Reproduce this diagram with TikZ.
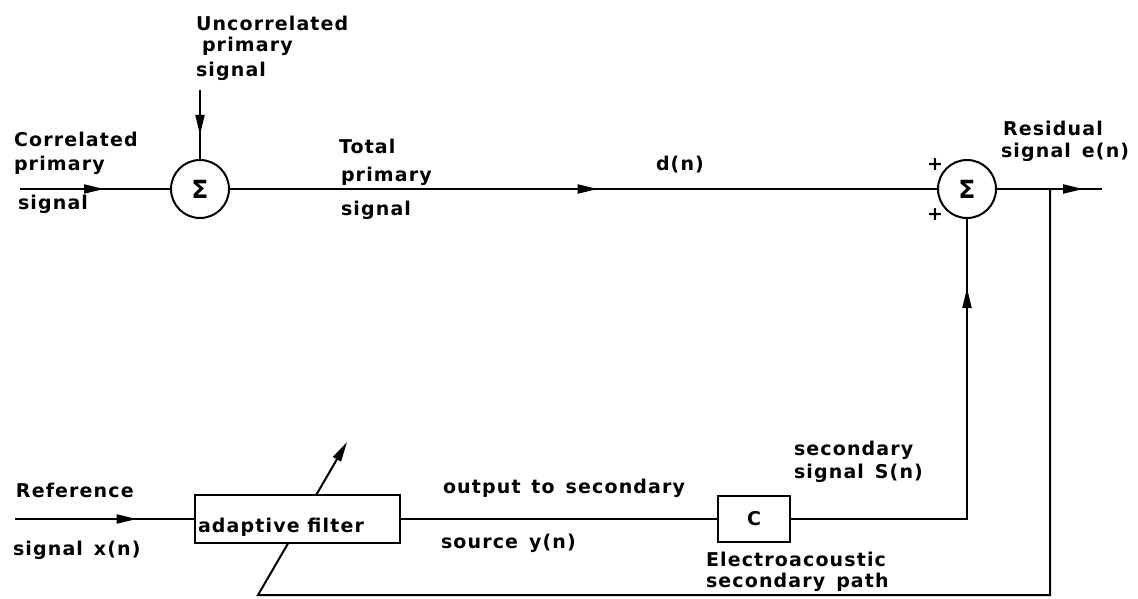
\documentclass[tikz,border=0pt]{standalone}
\usepackage{fontspec}
\setmainfont{DejaVu Sans}[LetterSpace=6]
\usetikzlibrary{arrows.meta,decorations.markings}
\begin{document}
\begin{tikzpicture}[x=1pt,y=-1pt,
  font=\fontsize{19}{22}\selectfont\bfseries,
  line width=2pt,
  lbl/.style={anchor=base west, inner sep=0pt},
  sumnode/.style={circle, draw, minimum size=58pt, inner sep=0pt, font=\fontsize{25}{28}\selectfont\bfseries},
  blk/.style={draw, fill=white, inner sep=0pt},
  tip/.style={-{Triangle[length=20pt,width=9pt]}},
  midarrow/.style={postaction={decorate}, decoration={markings, mark=at position #1 with {\arrow{Triangle[length=20pt,width=9pt]}}}}
]
\useasboundingbox (0,0) rectangle (1138,598);

% coordinates
\coordinate (cin) at (20,189);
\coordinate (uin) at (200,90);
\coordinate (out) at (1102,189);
\coordinate (j) at (1050,189);
\coordinate (fb) at (258,595);
\coordinate (fbt) at (347,442);
\coordinate (rin) at (15,519);

% feedback path (behind the filter box)
\draw[tip] (j) |- (fb) -- (fbt);

% nodes
\node[sumnode] (s1) at (200,189) {Σ};
\node[sumnode] (s2) at (967,189) {Σ};
\node[blk, minimum width=205pt, minimum height=48pt] (af) at (297.5,519) {};
\node[lbl] (aft) at (197,532) {adaptive filter};
\node[blk, minimum width=72pt, minimum height=46pt] (c) at (754,519) {C};

% connectors
\draw[midarrow=0.56] (cin) -- (s1);
\draw[midarrow=0.65] (uin) -- (s1);
\draw[midarrow=0.52] (s1) -- (s2);
\draw[midarrow=0.82] (s2) -- (out);
\draw[midarrow=0.68] (rin) -- (af);
\draw (af) -- (c);
\draw[midarrow=407pt] (c) -| (s2);

% labels
\node[lbl] (l1) at (195,30) {Uncorrelated};
\node[lbl] (l2) at (201,51) {primary};
\node[lbl] (l3) at (195,76) {signal};
\node[lbl] (l4) at (13,146) {Correlated};
\node[lbl] (l5) at (13,170) {primary};
\node[lbl] (l6) at (17,209) {signal};
\node[lbl] (l7) at (338,153) {Total};
\node[lbl] (l8) at (340,181) {primary};
\node[lbl] (l9) at (340,215) {signal};
\node[lbl] (l10) at (655,170) {d(n)};
\node[lbl] (l11) at (1002,135) {Residual};
\node[lbl] (l12) at (1000,157) {signal\, e(n)};
\node[inner sep=0pt] (p1) at (935,165) {+};
\node[inner sep=0pt] (p2) at (935,215) {+};
\node[lbl] (l13) at (15,497) {Reference};
\node[lbl] (l14) at (12,555) {signal\, x(n)};
\node[lbl] (l15) at (442,493) {output\, to\, secondary};
\node[lbl] (l16) at (440,548) {source\, y(n)};
\node[lbl] (l17) at (705,566) {Electroacoustic};
\node[lbl] (l18) at (705,587) {secondary\, path};
\node[lbl] (l19) at (793,455) {secondary};
\node[lbl] (l20) at (793,478) {signal\, S(n)};
\end{tikzpicture}
\end{document}
